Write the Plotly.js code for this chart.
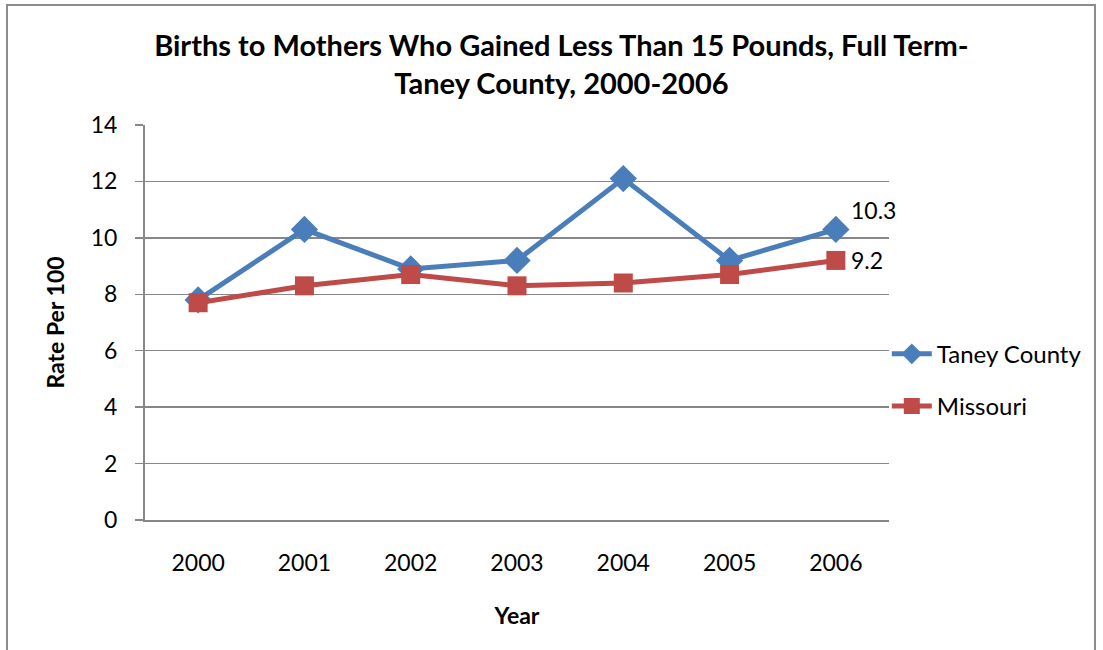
<!DOCTYPE html>
<html>
<head>
<meta charset="utf-8">
<script src="https://cdn.plot.ly/plotly-3.0.1.min.js"></script>
<style>
  html, body { margin: 0; padding: 0; background: #fff; overflow: hidden; }
  #frame { position: absolute; left: 6px; top: 4px; width: 1090px; height: 680px;
           border: 2px solid #8c8c8c; box-sizing: border-box; }
  #chart { position: absolute; left: 0; top: 0; width: 1103px; height: 650px; }
</style>
</head>
<body>
<div id="frame"></div>
<div id="chart"></div>
<script>
// --- chart data ---
const years = ['2000', '2001', '2002', '2003', '2004', '2005', '2006'];
const taneyCounty = [7.8, 10.3, 8.9, 9.2, 12.1, 9.2, 10.3];
const missouri = [7.7, 8.3, 8.7, 8.3, 8.4, 8.7, 9.2];
const seriesNames = ['Taney County', 'Missouri'];

const FONT = 'Lato, "Open Sans", sans-serif';
const GRID = '#878787';

const traces = [
    {
        x: years, y: taneyCounty, name: seriesNames[0],
        type: 'scatter', mode: 'lines+markers', legendgroup: 'a',
        line: { color: '#4a7ebb', width: 5 },
        marker: { symbol: 'diamond', size: 21, color: '#4a7ebb' }
    },
    {
        x: years, y: missouri, name: seriesNames[1],
        type: 'scatter', mode: 'lines+markers', legendgroup: 'b',
        line: { color: '#be4b48', width: 5 },
        marker: { symbol: 'square', size: 19, color: '#be4b48' }
    }
];

const last = years.length - 1;

const layout = {
    width: 1103, height: 650,
    margin: { l: 145, r: 214, t: 125, b: 130, autoexpand: false },
    paper_bgcolor: 'rgba(0,0,0,0)',
    plot_bgcolor: 'rgba(0,0,0,0)',
    font: { family: FONT, size: 23, color: '#000' },
    title: {
        text: '<b>Births to Mothers Who Gained Less Than 15 Pounds, Full Term-<br>Taney County, 2000-2006</b>',
        font: { family: FONT, size: 29, color: '#000' },
        xref: 'container', x: 0.509, xanchor: 'center',
        yref: 'container', y: 0.914, yanchor: 'top'
    },
    xaxis: {
        type: 'category',
        range: [-0.5, 6.5],
        showline: true, linecolor: GRID, linewidth: 2,
        showgrid: false, zeroline: false,
        ticks: '', ticklabelstandoff: 21,
        tickfont: { size: 23 },
        title: { text: '<b>Year</b>', font: { size: 23 }, standoff: 33 }
    },
    yaxis: {
        range: [0, 14], dtick: 2,
        showline: true, linecolor: GRID, linewidth: 2,
        gridcolor: GRID, gridwidth: 1.5,
        zeroline: false,
        ticks: 'outside', ticklen: 8, tickcolor: GRID, tickwidth: 1.5,
        ticklabelstandoff: 13,
        tickfont: { size: 23 },
        title: { text: '<b>Rate Per 100</b>', font: { size: 23 }, standoff: 20 }
    },
    showlegend: true,
    legend: {
        xref: 'container', yref: 'container',
        x: 0.804, xanchor: 'left',
        y: 0.415, yanchor: 'middle',
        font: { size: 24 },
        tracegroupgap: 18,
        itemwidth: 40,
        bgcolor: 'rgba(0,0,0,0)'
    },
    annotations: [
        { x: last, y: taneyCounty[last], text: String(taneyCounty[last]),
          showarrow: false, xanchor: 'left', xshift: 13, yshift: 19, font: { size: 23 } },
        { x: last, y: missouri[last], text: String(missouri[last]),
          showarrow: false, xanchor: 'left', xshift: 13, yshift: 0, font: { size: 23 } }
    ]
};

Plotly.newPlot('chart', traces, layout, { displayModeBar: false, staticPlot: true });
</script>
</body>
</html>
